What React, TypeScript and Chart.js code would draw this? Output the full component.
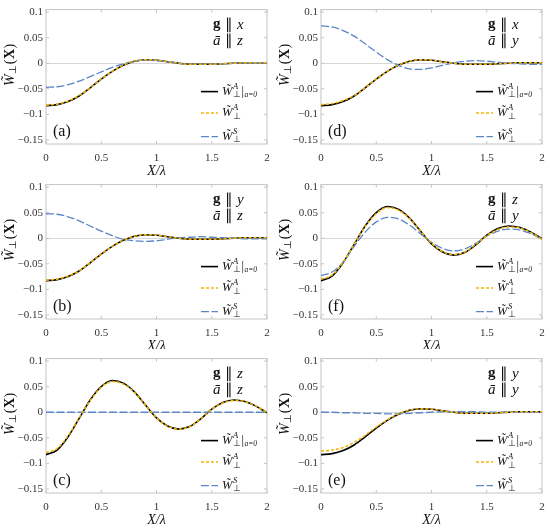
import React, { useEffect, useRef } from "react";
import Chart from "chart.js/auto";

// sample positions X/λ
const XS = [0, 0.1, 0.2, 0.3, 0.4, 0.5, 0.6, 0.7, 0.8, 0.9, 1, 1.1, 1.2, 1.3, 1.4, 1.5, 1.6, 1.7, 1.8, 1.9, 2];
const X_TICKS = [0, 0.5, 1, 1.5, 2];
const Y_TICKS = [-0.15, -0.1, -0.05, 0, 0.05, 0.1];

// W^A|a=0 reference curves
const REF_XY = [-0.083, -0.081, -0.075, -0.064, -0.048, -0.031, -0.016, -0.004, 0.004, 0.007, 0.006, 0.003, 0.0, -0.002, -0.002, -0.002, -0.001, 0.0, 0.001, 0.001, 0.001];
const REF_Z = [-0.083, -0.074, -0.048, -0.012, 0.024, 0.05, 0.062, 0.057, 0.04, 0.014, -0.011, -0.027, -0.033, -0.028, -0.013, 0.006, 0.019, 0.024, 0.021, 0.012, -0.001];

// (a) g||x, a||z
const ANTI_A = [-0.082, -0.08, -0.074, -0.063, -0.048, -0.031, -0.016, -0.004, 0.004, 0.007, 0.006, 0.003, 0.0, -0.002, -0.002, -0.002, -0.001, 0.0, 0.001, 0.001, 0.001];
const SYM_A = [-0.047, -0.046, -0.042, -0.035, -0.026, -0.017, -0.008, -0.001, 0.004, 0.006, 0.005, 0.003, 0.0, -0.002, -0.002, -0.002, -0.001, 0.0, 0.001, 0.001, 0.001];
// (d) g||x, a||y
const ANTI_D = [-0.081, -0.079, -0.073, -0.063, -0.048, -0.031, -0.016, -0.004, 0.004, 0.007, 0.006, 0.003, 0.0, -0.002, -0.002, -0.002, -0.001, 0.0, 0.001, 0.001, 0.001];
const SYM_D = [0.073, 0.071, 0.064, 0.053, 0.038, 0.022, 0.007, -0.004, -0.011, -0.012, -0.009, -0.004, 0.001, 0.004, 0.005, 0.004, 0.002, 0.0, -0.001, -0.002, -0.002];
// (b) g||y, a||z
const ANTI_B = [-0.082, -0.08, -0.074, -0.064, -0.048, -0.031, -0.016, -0.004, 0.004, 0.007, 0.006, 0.003, 0.0, -0.002, -0.002, -0.002, -0.001, 0.0, 0.001, 0.001, 0.001];
const SYM_B = [0.048, 0.047, 0.042, 0.034, 0.024, 0.014, 0.005, -0.002, -0.005, -0.006, -0.005, -0.002, 0.001, 0.002, 0.003, 0.002, 0.001, 0.0, -0.001, -0.001, -0.001];
// (f) g||z, a||y
const ANTI_F = [-0.08, -0.072, -0.047, -0.012, 0.023, 0.048, 0.06, 0.055, 0.039, 0.014, -0.01, -0.026, -0.032, -0.027, -0.012, 0.005, 0.017, 0.022, 0.02, 0.011, -0.002];
const SYM_F = [-0.073, -0.066, -0.047, -0.016, 0.012, 0.032, 0.041, 0.038, 0.026, 0.009, -0.008, -0.02, -0.025, -0.021, -0.01, 0.004, 0.014, 0.018, 0.016, 0.009, -0.002];
// (c) g||z, a||z
const ANTI_C = [-0.079, -0.071, -0.046, -0.011, 0.023, 0.049, 0.06, 0.055, 0.039, 0.014, -0.011, -0.027, -0.033, -0.028, -0.013, 0.006, 0.018, 0.023, 0.021, 0.012, 0.0];
const SYM_C = [0, 0, 0, 0, 0, 0, 0, 0, 0, 0, 0, 0, 0, 0, 0, 0, 0, 0, 0, 0, 0];
// (e) g||y, a||y
const ANTI_E = [-0.076, -0.074, -0.069, -0.059, -0.045, -0.029, -0.015, -0.003, 0.004, 0.007, 0.006, 0.003, 0.0, -0.002, -0.002, -0.002, -0.001, 0.0, 0.001, 0.001, 0.001];
const SYM_E = [0, 0, -0.001, -0.001, -0.002, -0.002, -0.003, -0.003, -0.002, -0.001, 0, 0.001, 0.001, 0.001, 0.001, 0, 0, 0, 0, 0, 0];

const SERIF = '"Liberation Serif"';
const GOLD = "#f2b400";
const BLUE = "#5b86c6";

type Run = { t: string; f: string; dy?: number; sub?: { t: string; f: string; dy: number } };

// draws a row of text pieces, returns width
function drawRuns(ctx: CanvasRenderingContext2D, runs: Run[], x: number, y: number) {
  let cx = x;
  for (const r of runs) {
    ctx.font = r.f;
    ctx.fillText(r.t, cx, y + (r.dy || 0));
    let w = ctx.measureText(r.t).width;
    if (r.sub) {
      ctx.font = r.sub.f;
      ctx.fillText(r.sub.t, cx, y + r.sub.dy);
      w = Math.max(w, ctx.measureText(r.sub.t).width);
    }
    cx += w + 0.5;
  }
  return cx - x;
}

function wLabel(sup: string, ref: boolean): Run[] {
  const runs: Run[] = [
    { t: "W\u0303", f: `italic 12.5px ${SERIF}` },
    { t: sup, f: `italic 8.5px ${SERIF}`, dy: -5, sub: { t: "\u22a5", f: `8.5px ${SERIF}`, dy: 3.5 } },
  ];
  if (ref) {
    runs.push({ t: "|", f: `12.5px ${SERIF}` });
    runs.push({ t: "a=0", f: `italic 7.5px ${SERIF}`, dy: 3 });
  }
  return runs;
}

interface PanelProps {
  tag: string;
  g: string;
  a: string;
  refCurve: number[];
  anti: number[];
  sym: number[];
  left: number;
  top: number;
  height: number;
}

const Panel: React.FC<PanelProps> = ({ tag, g, a, refCurve, anti, sym, left, top, height }) => {
  const canvasRef = useRef<HTMLCanvasElement | null>(null);

  useEffect(() => {
    if (!canvasRef.current) return;
    const ctx = canvasRef.current.getContext("2d");
    if (!ctx) return;

    const pts = (ys: number[]) => XS.map((x, i) => ({ x, y: ys[i] }));

    const decor = {
      id: "decor",
      beforeDatasetsDraw(chart: any) {
        const c = chart.ctx as CanvasRenderingContext2D;
        const { left: l, right: r, top: t, bottom: b } = chart.chartArea;
        c.save();
        c.strokeStyle = "#c4c4c4";
        c.lineWidth = 1;
        c.strokeRect(l, t, r - l, b - t);
        const xs = chart.scales.x;
        const ys = chart.scales.y;
        c.beginPath();
        X_TICKS.forEach((v) => {
          const px = xs.getPixelForValue(v);
          c.moveTo(px, b);
          c.lineTo(px, b - 3);
          c.moveTo(px, t);
          c.lineTo(px, t + 3);
        });
        Y_TICKS.forEach((v) => {
          const py = ys.getPixelForValue(v);
          c.moveTo(l, py);
          c.lineTo(l + 3, py);
          c.moveTo(r, py);
          c.lineTo(r - 3, py);
        });
        c.stroke();
        c.restore();
      },
      afterDraw(chart: any) {
        const c = chart.ctx as CanvasRenderingContext2D;
        const { left: l, right: r, top: t, bottom: b } = chart.chartArea;
        c.save();
        c.fillStyle = "#111";
        c.textBaseline = "middle";
        c.textAlign = "left";

        // annotations
        drawRuns(c, [
          { t: "g", f: `bold 15px ${SERIF}` },
          { t: " \u2225 ", f: `15px ${SERIF}` },
          { t: g, f: `italic 15px ${SERIF}` },
        ], l + 167, t + 15);
        drawRuns(c, [
          { t: "\u0101", f: `italic 15px ${SERIF}` },
          { t: " \u2225 ", f: `15px ${SERIF}` },
          { t: a, f: `italic 15px ${SERIF}` },
        ], l + 167, t + 31);

        // panel tag
        c.font = `16px ${SERIF}`;
        c.fillText(`(${tag})`, l + 7, t + 122);

        // legend
        const rows = [
          { y: t + 82, color: "#000", dash: [] as number[], w: 1.6, label: wLabel("A", true) },
          { y: t + 103.5, color: GOLD, dash: [3, 2], w: 1.5, label: wLabel("A", false) },
          { y: t + 127, color: BLUE, dash: [8, 2.5], w: 1.3, label: wLabel("S", false) },
        ];
        rows.forEach((row) => {
          c.save();
          c.strokeStyle = row.color;
          c.lineWidth = row.w;
          c.setLineDash(row.dash);
          c.beginPath();
          c.moveTo(l + 155, row.y);
          c.lineTo(l + 172, row.y);
          c.stroke();
          c.restore();
          drawRuns(c, row.label, l + 176, row.y);
        });

        // x title
        c.textAlign = "left";
        c.font = `italic 14px ${SERIF}`;
        const xt = "X/\u03bb";
        const xw = c.measureText(xt).width;
        c.fillText(xt, (l + r) / 2 - xw / 2, b + 27);

        // y title, rotated
        c.translate(10, t + 55);
        c.rotate(-Math.PI / 2);
        const yRuns: Run[] = [
          { t: "W\u0303", f: `italic 14px ${SERIF}` },
          { t: "\u22a5", f: `10px ${SERIF}`, dy: 3.5 },
          { t: "(", f: `14px ${SERIF}` },
          { t: "X", f: `bold 14px ${SERIF}` },
          { t: ")", f: `14px ${SERIF}` },
        ];
        c.globalAlpha = 0;
        const yw = drawRuns(c, yRuns, 0, 0);
        c.globalAlpha = 1;
        drawRuns(c, yRuns, -yw / 2, 0);
        c.restore();
      },
    };

    const chart = new Chart(ctx, {
      type: "line",
      data: {
        datasets: [
          {
            label: "W^A_perp",
            data: pts(anti),
            borderColor: GOLD,
            borderWidth: 1.5,
            borderDash: [3, 2],
            pointRadius: 0,
            cubicInterpolationMode: "monotone",
            order: 1,
          },
          {
            label: "W^S_perp",
            data: pts(sym),
            borderColor: BLUE,
            borderWidth: 1.3,
            borderDash: [8, 2.5],
            pointRadius: 0,
            cubicInterpolationMode: "monotone",
            order: 2,
          },
          {
            label: "W^A_perp|a=0",
            data: pts(refCurve),
            borderColor: "#000",
            borderWidth: 1.6,
            pointRadius: 0,
            cubicInterpolationMode: "monotone",
            order: 3,
          },
        ],
      },
      options: {
        animation: false,
        responsive: false,
        events: [],
        layout: { padding: { top: 6, right: 8, left: 0, bottom: 0 } },
        plugins: { legend: { display: false }, tooltip: { enabled: false } },
        scales: {
          x: {
            type: "linear",
            min: 0,
            max: 2,
            afterFit: (scale: any) => {
              scale.height = height - 6 - 138;
            },
            afterBuildTicks: (scale: any) => {
              scale.ticks = X_TICKS.map((v) => ({ value: v }));
            },
            grid: { display: false },
            border: { display: false },
            ticks: {
              padding: 0,
              color: "#333",
              font: { family: SERIF, size: 11 },
              callback: (v: any) => String(v),
            },
          },
          y: {
            min: -0.158,
            max: 0.105,
            afterFit: (scale: any) => {
              scale.width = 46;
            },
            afterBuildTicks: (scale: any) => {
              scale.ticks = Y_TICKS.map((v) => ({ value: v }));
            },
            grid: {
              drawTicks: false,
              color: (c: any) => (c.tick && c.tick.value === 0 ? "#d6d6d6" : "rgba(0,0,0,0)"),
            },
            border: { display: false },
            ticks: {
              padding: 3,
              color: "#333",
              font: { family: SERIF, size: 11 },
              callback: (v: any) => (v === 0 ? "0" : String(v).replace("-", "\u2212")),
            },
          },
        },
      },
      plugins: [decor],
    });

    return () => {
      chart.destroy();
    };
  }, [tag, g, a, refCurve, anti, sym, height]);

  return (
    <canvas
      ref={canvasRef}
      width={275}
      height={height}
      style={{ position: "absolute", left, top, width: 275, height, display: "block" }}
    />
  );
};

const App: React.FC = () => {
  return (
    <div style={{ position: "absolute", left: 0, top: 0, width: 550, height: 528, background: "#fff" }}>
      <Panel tag="a" g="x" a="z" refCurve={REF_XY} anti={ANTI_A} sym={SYM_A} left={0} top={0} height={175} />
      <Panel tag="d" g="x" a="y" refCurve={REF_XY} anti={ANTI_D} sym={SYM_D} left={275} top={0} height={175} />
      <Panel tag="b" g="y" a="z" refCurve={REF_XY} anti={ANTI_B} sym={SYM_B} left={0} top={175} height={174} />
      <Panel tag="f" g="z" a="y" refCurve={REF_Z} anti={ANTI_F} sym={SYM_F} left={275} top={175} height={174} />
      <Panel tag="c" g="z" a="z" refCurve={REF_Z} anti={ANTI_C} sym={SYM_C} left={0} top={349} height={179} />
      <Panel tag="e" g="y" a="y" refCurve={REF_XY} anti={ANTI_E} sym={SYM_E} left={275} top={349} height={179} />
    </div>
  );
};

export default App;
